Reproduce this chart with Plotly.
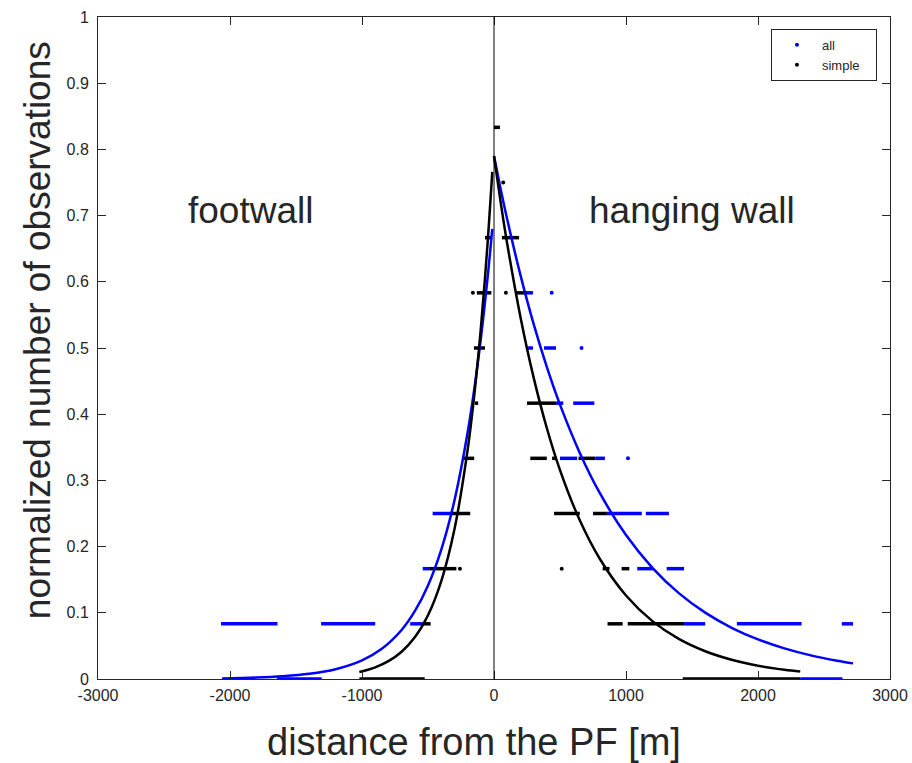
import plotly.graph_objects as go

# ---- data ----
# horizontal runs of observations: level index k (y = k/12), x start, x end in metres
all_seg_k     = [0, 0, 1, 1, 1, 1, 1, 1, 2, 2, 2, 3, 3, 3, 4, 4, 5, 5, 6, 6, 7]
all_seg_x0    = [-1645, 2320, -2068, -1310, -635, 1440, 1840, 2635, -540, 1085, 1308, -465, 855, 1150, 500, 770, 470, 600, 258, 379, 250]
all_seg_x1    = [-1305, 2640, -1640, -900, -540, 1600, 2330, 2720, -485, 1205, 1440, -320, 1120, 1325, 630, 840, 525, 760, 295, 470, 295]
all_dot_x     = [1015, 663, 437]
all_dot_k     = [4, 6, 7]

simple_seg_k  = [0, 0, 1, 1, 1, 2, 2, 2, 3, 3, 3, 4, 4, 4, 4, 5, 5, 6, 7, 7, 8, 8, 10]
simple_seg_x0 = [-1020, 1430, -540, 860, 1013, -485, 823, 967, -320, 455, 750, -230, 275, 440, 640, -145, 250, -152, -130, 160, -68, 60, 0]
simple_seg_x1 = [-525, 2320, -480, 975, 1440, -285, 875, 1025, -180, 650, 855, -150, 400, 475, 770, -120, 470, -68, -20, 250, -15, 190, 45]
simple_dot_x  = [-258, 513, -160, 90, 70]
simple_dot_k  = [2, 2, 7, 7, 9]

# fitted decay curves
all_right_x   = [0, 50, 100, 200, 300, 400, 500, 650, 800, 1000, 1200, 1400, 1600, 1800, 2000, 2200, 2400, 2600, 2720]
all_right_y   = [0.790, 0.7406, 0.6944, 0.6104, 0.5364, 0.4715, 0.4144, 0.3415, 0.2814, 0.2174, 0.1680, 0.1297,
                 0.1002, 0.0774, 0.0598, 0.0462, 0.0357, 0.0276, 0.0236]
all_left_x    = [-2060, -1800, -1600, -1400, -1200, -1000, -850, -700, -600, -500, -400, -300, -200, -150, -100, -50, -13]
all_left_y    = [0.0009, 0.0021, 0.0041, 0.0078, 0.0148, 0.0282, 0.0457, 0.0741, 0.1024, 0.1413, 0.1951, 0.2694,
                 0.3720, 0.4371, 0.5136, 0.6035, 0.680]
simple_right_x = [0, 50, 100, 200, 300, 400, 500, 650, 800, 1000, 1200, 1400, 1600, 1800, 2000, 2200, 2320]
simple_right_y = [0.790, 0.7208, 0.6576, 0.5473, 0.4556, 0.3792, 0.3156, 0.2397, 0.1820, 0.1261, 0.0874, 0.0605,
                  0.0419, 0.0291, 0.0201, 0.0140, 0.0112]
simple_left_x  = [-1020, -900, -800, -700, -600, -500, -400, -300, -200, -150, -100, -50, -13]
simple_left_y  = [0.0105, 0.0176, 0.0269, 0.0412, 0.0630, 0.0964, 0.1476, 0.2258, 0.3457, 0.4277, 0.5290, 0.6544, 0.766]

N_LEVELS = 12
x_ticks = [-3000, -2000, -1000, 0, 1000, 2000, 3000]
y_ticks = [0, 0.1, 0.2, 0.3, 0.4, 0.5, 0.6, 0.7, 0.8, 0.9, 1]
y_tick_text = ["0", "0.1", "0.2", "0.3", "0.4", "0.5", "0.6", "0.7", "0.8", "0.9", "1"]

BLUE = "#0000ff"
BLACK = "#000000"
TXT = "#262626"
FONT = "Liberation Sans, Arial, sans-serif"


def seg_xy(ks, x0s, x1s):
    xs, ys = [], []
    for k, a, b in zip(ks, x0s, x1s):
        xs += [a, b, None]
        ys += [k / N_LEVELS, k / N_LEVELS, None]
    return xs, ys


fig = go.Figure()

# "all" observations
ax, ay = seg_xy(all_seg_k, all_seg_x0, all_seg_x1)
fig.add_trace(go.Scatter(x=ax, y=ay, mode="lines", line=dict(color=BLUE, width=3.5),
                         showlegend=False, hoverinfo="skip"))
fig.add_trace(go.Scatter(x=all_dot_x, y=[k / N_LEVELS for k in all_dot_k], mode="markers",
                         marker=dict(color=BLUE, size=4), showlegend=False))

# "simple" observations
sx, sy = seg_xy(simple_seg_k, simple_seg_x0, simple_seg_x1)
fig.add_trace(go.Scatter(x=sx, y=sy, mode="lines", line=dict(color=BLACK, width=3.5),
                         showlegend=False, hoverinfo="skip"))
fig.add_trace(go.Scatter(x=simple_dot_x, y=[k / N_LEVELS for k in simple_dot_k], mode="markers",
                         marker=dict(color=BLACK, size=4), showlegend=False))

# fitted curves
for cx, cy, col in [(all_left_x, all_left_y, BLUE), (all_right_x, all_right_y, BLUE),
                    (simple_left_x, simple_left_y, BLACK), (simple_right_x, simple_right_y, BLACK)]:
    fig.add_trace(go.Scatter(x=cx, y=cy, mode="lines", line=dict(color=col, width=2.5, shape="spline"),
                             showlegend=False))

# legend entries
fig.add_trace(go.Scatter(x=[None], y=[None], mode="markers", marker=dict(color=BLUE, size=4),
                         name="all"))
fig.add_trace(go.Scatter(x=[None], y=[None], mode="markers", marker=dict(color=BLACK, size=4),
                         name="simple\u00a0\u00a0\u00a0"))

# vertical line at the PF
fig.add_shape(type="line", x0=0, x1=0, y0=0, y1=1, xref="x", yref="y",
              line=dict(color=BLACK, width=1))

fig.add_annotation(x=-1848, y=0.708, text="footwall", showarrow=False, xref="x", yref="y",
                   font=dict(family=FONT, size=37, color=TXT))
fig.add_annotation(x=1500, y=0.708, text="hanging wall", showarrow=False, xref="x", yref="y",
                   font=dict(family=FONT, size=37, color=TXT))

# axis titles
fig.add_annotation(x=0.4747, y=-0.0952, xref="paper", yref="paper", showarrow=False,
                   xanchor="center", yanchor="middle",
                   text="distance from the PF [m]", font=dict(family=FONT, size=38, color=TXT))
fig.add_annotation(x=-0.077, y=0.527, xref="paper", yref="paper", showarrow=False, textangle=-90,
                   xanchor="center", yanchor="middle",
                   text="normalized number of observations", font=dict(family=FONT, size=37, color=TXT))

axis_common = dict(showgrid=False, zeroline=False, showline=True, linecolor=TXT, linewidth=1,
                   mirror="ticks", ticks="inside", ticklen=8, tickcolor=TXT, automargin=False,
                   tickfont=dict(family=FONT, size=16, color=TXT))

fig.update_xaxes(range=[-3000, 3000], tickvals=x_ticks, ticktext=[str(v) for v in x_ticks],
                 ticklabelstandoff=2, **axis_common)
fig.update_yaxes(range=[0, 1], tickvals=y_ticks, ticktext=y_tick_text,
                 ticklabelstandoff=5, **axis_common)

fig.update_layout(
    width=912, height=763,
    margin=dict(l=98, r=22, t=17, b=84),
    plot_bgcolor="white", paper_bgcolor="white",
    font=dict(family=FONT, color=TXT),
    legend=dict(x=0.8497, y=0.982, xanchor="left", yanchor="top", bgcolor="white",
                bordercolor=TXT, borderwidth=1, font=dict(family=FONT, size=13, color=TXT),
                itemwidth=40, tracegroupgap=0),
)

fig.write_html("out.html", config={"displayModeBar": False},
               post_script="document.body.style.margin='0';document.body.style.overflow='hidden';")
